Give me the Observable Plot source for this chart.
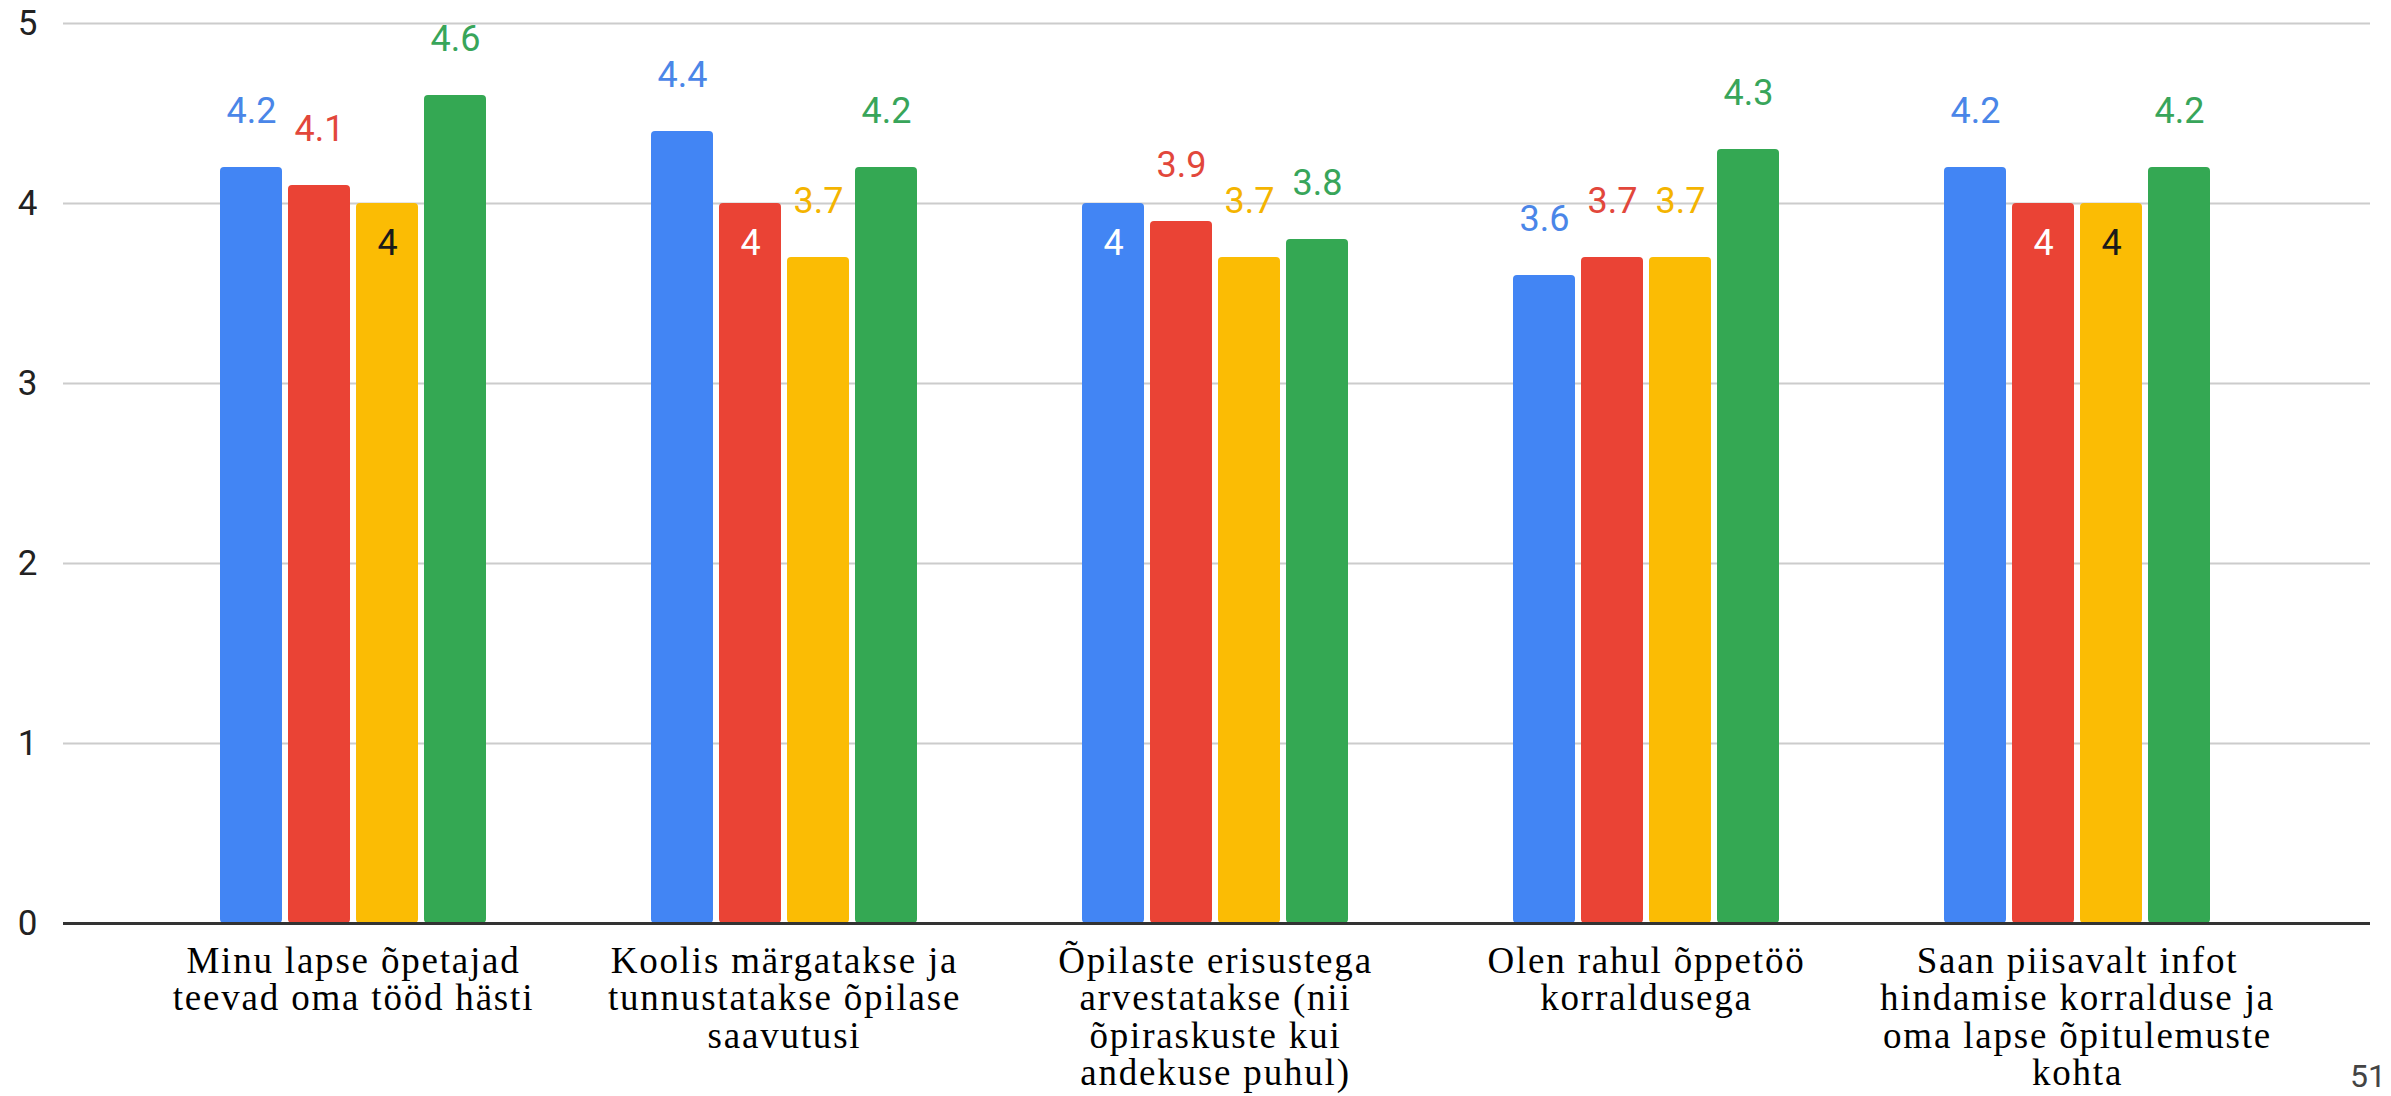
<!DOCTYPE html>
<html><head><meta charset="utf-8">
<script src="https://cdn.jsdelivr.net/npm/d3@7"></script>
<script src="https://cdn.jsdelivr.net/npm/@observablehq/plot@0.6"></script>
<style>
body{margin:0;background:#fff;}
#chart{position:relative;width:2391px;height:1096px;overflow:hidden;background:#fff;}
#page{position:absolute;left:2350px;top:1060px;font:32px Roboto, sans-serif;color:#444;line-height:1;}
g[font-family^="Liberation Serif"] text{letter-spacing:1.8px;}
</style></head><body><div id="chart"><div id="page">51</div></div>
<script>
// ---- data ----
const categories = [
  "Minu lapse õpetajad\nteevad oma tööd hästi",
  "Koolis märgatakse ja\ntunnustatakse õpilase\nsaavutusi",
  "Õpilaste erisustega\narvestatakse (nii\nõpiraskuste kui\nandekuse puhul)",
  "Olen rahul õppetöö\nkorraldusega",
  "Saan piisavalt infot\nhindamise korralduse ja\noma lapse õpitulemuste\nkohta"
];
const seriesNames = ["Seeria 1", "Seeria 2", "Seeria 3", "Seeria 4"];
const series1 = [4.2, 4.4, 4.0, 3.6, 4.2];
const series2 = [4.1, 4.0, 3.9, 3.7, 4.0];
const series3 = [4.0, 3.7, 3.7, 3.7, 4.0];
const series4 = [4.6, 4.2, 3.8, 4.3, 4.2];
const yTicks = [0, 1, 2, 3, 4, 5];

// ---- styles ----
const colors = ["#4285f4", "#ea4335", "#fbbc04", "#34a853"];
const labelColors = ["#4a86e8", "#e2473b", "#f4b400", "#38a55a"];
const insideLabelColors = ["#ffffff", "#ffffff", "#1a1a1a", "#ffffff"];
const slot = 68;

const allSeries = [series1, series2, series3, series4];
const rows = allSeries.flatMap((vals, s) =>
  vals.map((v, c) => ({category: categories[c], series: seriesNames[s], s, value: v, label: String(v)}))
);

const marks = [
  Plot.gridY(yTicks, {stroke: "#cccccc", strokeOpacity: 1, strokeWidth: 2}),
];
allSeries.forEach((_, i) => {
  const data = rows.filter(d => d.s === i);
  const dx = i * slot - 1.5 * slot;
  marks.push(Plot.barY(data, {
    x: "category", y: "value", fill: "series",
    insetLeft: i * slot, insetRight: (3 - i) * slot, rx: 4
  }));
  marks.push(Plot.text(data.filter(d => d.value !== 4), {
    x: "category", y: "value", text: "label", fill: labelColors[i],
    dx, dy: -56, fontSize: 36, fontFamily: "Roboto, sans-serif", lineAnchor: "middle"
  }));
  marks.push(Plot.text(data.filter(d => d.value === 4), {
    x: "category", y: "value", text: "label", fill: insideLabelColors[i],
    dx, dy: 40, fontSize: 36, fontFamily: "Roboto, sans-serif", lineAnchor: "middle"
  }));
});
marks.push(Plot.ruleY([0], {stroke: "#333333", strokeWidth: 3}));
marks.push(Plot.axisY({ticks: yTicks, tickSize: 0, tickPadding: 26, fontSize: 35,
  fontFamily: "Roboto, sans-serif", fill: "#222", tickFormat: d => String(d)}));
marks.push(Plot.axisX({tickSize: 0, tickPadding: 23, fontSize: 37, lineHeight: 1.01,
  fontFamily: "Liberation Serif, Times New Roman, serif", fill: "#000", lineAnchor: "top",
  label: null}));

const chart = Plot.plot({
  width: 2391,
  height: 1096,
  marginLeft: 63,
  marginRight: 21,
  marginTop: 23,
  marginBottom: 173,
  style: {background: "#fff"},
  x: {type: "band", domain: categories, paddingInner: 0.3832, paddingOuter: 0.3664, align: 0.494, label: null},
  y: {domain: [0, 5], label: null},
  color: {domain: seriesNames, range: colors},
  marks
});
document.getElementById("chart").prepend(chart);
</script>
</body></html>
